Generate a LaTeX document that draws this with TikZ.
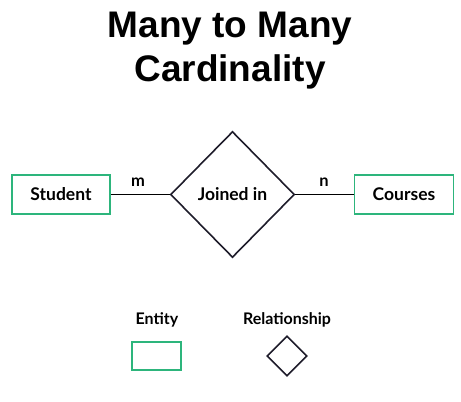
\documentclass[tikz,border=0pt]{standalone}
\usepackage{fontspec}
\setmainfont{Liberation Sans}
\newfontfamily\labelfont{Lato}
\usetikzlibrary{shapes.geometric}
\definecolor{entgreen}{HTML}{2DB57C}
\definecolor{linedark}{HTML}{1E1C2A}
\tikzset{
  entity/.style={draw=entgreen, line width=1.6pt, minimum width=98pt, minimum height=39pt, inner sep=0pt, font=\labelfont\bfseries\fontsize{17.5}{20}\selectfont, text=black},
  relbox/.style={draw=linedark, line width=1.6pt, shape=diamond, inner sep=0pt, font=\labelfont\bfseries\fontsize{17.5}{20}\selectfont},
  card/.style={font=\labelfont\bfseries\fontsize{16.5}{19}\selectfont},
  legendtxt/.style={font=\labelfont\bfseries\fontsize{16}{19}\selectfont},
  conn/.style={line width=1.8pt, draw=black},
  titletxt/.style={font=\bfseries\fontsize{37}{42}\selectfont, align=center}
}
\begin{document}
\begin{tikzpicture}[x=1pt,y=-1pt]
\useasboundingbox (0,0) rectangle (461,402);
\node[titletxt] (t1) at (230,29) {Many to Many};
\node[titletxt] (t2) at (230,72) {Cardinality};
\node[entity] (student) at (61,194.5) {Student};
\node[entity, minimum width=99pt] (courses) at (404,194.5) {Courses};
\node[relbox, minimum width=124pt, minimum height=126pt] (rel) at (232.5,194.5) {Joined in};
\draw[conn] (student.east) -- (rel.west);
\draw[conn] (courses.west) -- (rel.east);
\node[card] (m) at (138,182) {m};
\node[card] (n) at (324,182) {n};
\node[legendtxt] (lent) at (157,320) {Entity};
\node[legendtxt] (lrel) at (287,320) {Relationship};
\node[entity, minimum width=49pt, minimum height=28pt] (legbox) at (156.7,356) {};
\node[relbox, minimum width=40pt, minimum height=40pt] (legdia) at (287,356) {};
\end{tikzpicture}
\end{document}
